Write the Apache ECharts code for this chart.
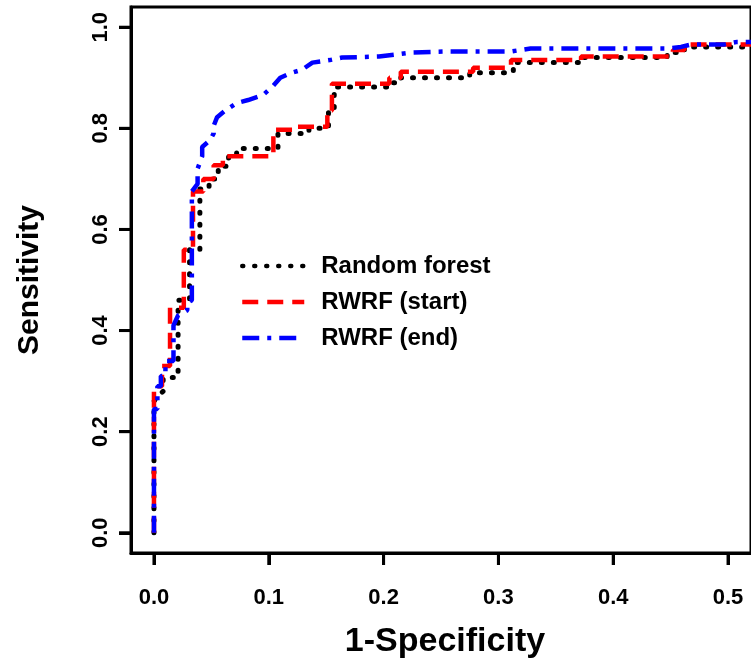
<!DOCTYPE html>
<html><head><meta charset="utf-8">
<script src="https://cdn.jsdelivr.net/npm/echarts@6/dist/echarts.min.js"></script>
<style>html,body{margin:0;padding:0;background:#fff}#c{width:751px;height:664px}</style>
</head><body><div id="c"></div>
<script>
const seriesNames = ['Random forest', 'RWRF (start)', 'RWRF (end)'];
const xTicks = [0, 0.1, 0.2, 0.3, 0.4, 0.5];
const yTicks = [0, 0.2, 0.4, 0.6, 0.8, 1.0];

// Random forest (1-specificity, sensitivity)
const rfX = [0, 0, 0.003, 0.008, 0.008, 0.021, 0.021, 0.031, 0.031, 0.040, 0.040, 0.048, 0.048, 0.056, 0.056, 0.065, 0.065, 0.072, 0.072, 0.108, 0.108, 0.135, 0.135, 0.152, 0.152, 0.157, 0.157, 0.205, 0.205, 0.215, 0.215, 0.275, 0.275, 0.313, 0.313, 0.372, 0.372, 0.447, 0.447, 0.462, 0.462, 0.53];
const rfY = [0, 0.26, 0.27, 0.28, 0.307, 0.307, 0.46, 0.46, 0.56, 0.56, 0.68, 0.68, 0.70, 0.70, 0.725, 0.725, 0.745, 0.745, 0.76, 0.76, 0.79, 0.79, 0.80, 0.80, 0.84, 0.84, 0.882, 0.882, 0.89, 0.89, 0.90, 0.90, 0.91, 0.91, 0.93, 0.93, 0.94, 0.94, 0.95, 0.95, 0.961, 0.961];

// RWRF (start)
const startX = [0, 0, 0.007, 0.007, 0.014, 0.014, 0.026, 0.026, 0.034, 0.034, 0.043, 0.043, 0.052, 0.052, 0.060, 0.060, 0.104, 0.104, 0.125, 0.125, 0.151, 0.151, 0.155, 0.155, 0.205, 0.205, 0.215, 0.215, 0.278, 0.278, 0.311, 0.311, 0.372, 0.372, 0.452, 0.452, 0.462, 0.462, 0.53];
const startY = [0, 0.29, 0.29, 0.33, 0.33, 0.445, 0.445, 0.56, 0.56, 0.675, 0.675, 0.70, 0.70, 0.727, 0.727, 0.745, 0.745, 0.797, 0.797, 0.803, 0.803, 0.835, 0.835, 0.888, 0.888, 0.90, 0.90, 0.912, 0.912, 0.92, 0.92, 0.935, 0.935, 0.942, 0.942, 0.955, 0.955, 0.966, 0.966];

// RWRF (end)
const endX = [0, 0, 0.003, 0.003, 0.006, 0.006, 0.010, 0.010, 0.017, 0.017, 0.021, 0.029, 0.029, 0.033, 0.033, 0.038, 0.038, 0.042, 0.042, 0.049, 0.052, 0.052, 0.055, 0.062, 0.072, 0.082, 0.095, 0.103, 0.110, 0.120, 0.129, 0.138, 0.153, 0.164, 0.196, 0.211, 0.225, 0.254, 0.311, 0.328, 0.447, 0.459, 0.468, 0.497, 0.508, 0.53];
const endY = [0, 0.245, 0.245, 0.29, 0.29, 0.31, 0.31, 0.34, 0.34, 0.41, 0.43, 0.44, 0.455, 0.46, 0.675, 0.69, 0.72, 0.745, 0.763, 0.777, 0.79, 0.805, 0.822, 0.835, 0.85, 0.856, 0.866, 0.882, 0.90, 0.91, 0.916, 0.93, 0.935, 0.94, 0.942, 0.946, 0.95, 0.952, 0.952, 0.958, 0.958, 0.961, 0.966, 0.966, 0.971, 0.971];

const zip = (xs, ys) => xs.map((x, i) => [x, ys[i]]);
const FONT = '"Liberation Sans", Arial, sans-serif';
const X_MIN = -0.02, X_MAX = 0.52, Y_MIN = -0.04, Y_MAX = 1.04, TICK_LEN = 12;

const chart = echarts.init(document.getElementById('c'));
chart.setOption({
  animation: false,
  grid: { left: 131, top: 7, bottom: 111, right: -3, show: true, borderColor: '#000', borderWidth: 3 },
  legend: {
    orient: 'vertical', left: 240, top: 254, padding: 0,
    itemWidth: 62, itemHeight: 14, itemGap: 12,
    data: seriesNames,
    itemStyle: { color: 'rgba(255,255,255,0)', borderWidth: 0 },
    lineStyle: { width: 4.5 },
    textStyle: { fontFamily: FONT, fontWeight: 'bold', fontSize: 24, color: '#000', padding: [0, 0, 0, 12] }
  },
  xAxis: {
    type: 'value', min: X_MIN, max: X_MAX, zlevel: 1,
    name: '1-Specificity', nameLocation: 'middle', nameGap: 72,
    nameTextStyle: { fontFamily: FONT, fontWeight: 'bold', fontSize: 34, color: '#000', padding: [0, 0, 0, 8] },
    splitLine: { show: false },
    axisLine: { show: true, onZero: false, lineStyle: { color: '#000', width: 3 } },
    axisTick: { show: true, length: TICK_LEN, customValues: xTicks, lineStyle: { color: '#000', width: 3 } },
    axisLabel: { customValues: xTicks, formatter: v => v.toFixed(1), margin: 34, fontFamily: FONT, fontWeight: 'bold', fontSize: 22, color: '#000' }
  },
  yAxis: {
    type: 'value', min: Y_MIN, max: Y_MAX, zlevel: 1,
    name: 'Sensitivity', nameLocation: 'middle', nameGap: 86,
    nameTextStyle: { fontFamily: FONT, fontWeight: 'bold', fontSize: 30, color: '#000' },
    splitLine: { show: false },
    axisLine: { show: true, onZero: false, lineStyle: { color: '#000', width: 3 } },
    axisTick: { show: true, length: TICK_LEN, customValues: yTicks, lineStyle: { color: '#000', width: 3 } },
    axisLabel: { customValues: yTicks, formatter: v => v.toFixed(1), rotate: 90, margin: 19, fontFamily: FONT, fontWeight: 'bold', fontSize: 22, color: '#000' }
  },
  series: [
    { name: seriesNames[0], type: 'line', data: zip(rfX, rfY), symbol: 'none',
      lineStyle: { color: '#000', width: 5, type: [1, 11], cap: 'round', join: 'round' }, itemStyle: { color: '#000' } },
    { name: seriesNames[1], type: 'line', data: zip(startX, startY), symbol: 'none',
      lineStyle: { color: '#ff0000', width: 4.5, type: [16, 9], cap: 'butt' }, itemStyle: { color: '#ff0000' } },
    { name: seriesNames[2], type: 'line', data: zip(endX, endY), symbol: 'none',
      lineStyle: { color: '#0000ff', width: 4.5, type: [17, 8, 4, 8], cap: 'butt' }, itemStyle: { color: '#0000ff' } }
  ]
});

// Outward tick marks positioned through the chart's own axis scales (own canvas layer)
const axisBottom = chart.convertToPixel({ yAxisIndex: 0 }, Y_MIN);
const axisLeft = chart.convertToPixel({ xAxisIndex: 0 }, X_MIN);
const tickGraphics = [];
xTicks.forEach(v => {
  const px = chart.convertToPixel({ xAxisIndex: 0 }, v);
  tickGraphics.push({ type: 'line', silent: true, zlevel: 2, z: 10, shape: { x1: px, y1: axisBottom, x2: px, y2: axisBottom + TICK_LEN }, style: { stroke: '#000', lineWidth: 3 } });
});
yTicks.forEach(v => {
  const py = chart.convertToPixel({ yAxisIndex: 0 }, v);
  tickGraphics.push({ type: 'line', silent: true, zlevel: 2, z: 10, shape: { x1: axisLeft - TICK_LEN, y1: py, x2: axisLeft, y2: py }, style: { stroke: '#000', lineWidth: 3 } });
});
chart.setOption({ graphic: { elements: tickGraphics } });
</script></body></html>
